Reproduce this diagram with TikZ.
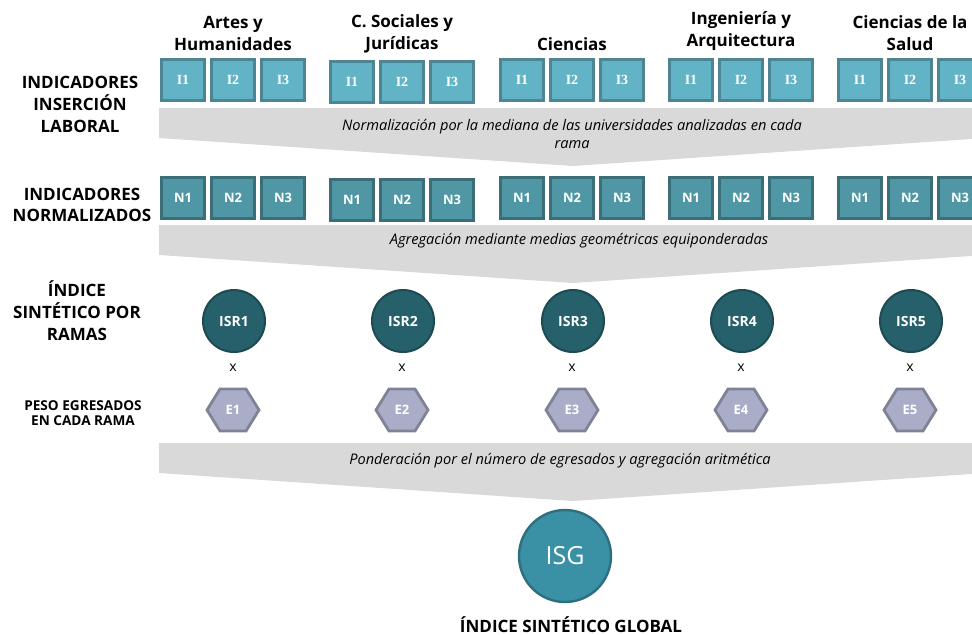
\documentclass[tikz,border=0pt]{standalone}
\usepackage{fontspec}
\setmainfont{Open Sans}
\newfontfamily\fuenteI{Liberation Serif}
\usepackage{tikz}

\definecolor{cajaI}{HTML}{62B3C5}
\definecolor{bordeI}{HTML}{4E8592}
\definecolor{cajaN}{HTML}{4F97A5}
\definecolor{bordeN}{HTML}{3C6E78}
\definecolor{circR}{HTML}{25606B}
\definecolor{bordeR}{HTML}{1E4A52}
\definecolor{hexE}{HTML}{A9ADC8}
\definecolor{bordeE}{HTML}{808296}
\definecolor{circG}{HTML}{3A91A6}
\definecolor{bordeG}{HTML}{2F6E7E}
\definecolor{embudo}{HTML}{D9D9D9}

\begin{document}
\begin{tikzpicture}[x=0.5pt, y=-0.5pt,
        etiqueta/.style={align=center, inner sep=0pt, font=\fontsize{8.5}{11}\selectfont\bfseries},
        rama/.style={etiqueta, anchor=south},
        ibox/.style={draw=bordeI, fill=cajaI, line width=1.4pt, minimum width=21.5pt, minimum height=20.5pt,
            inner sep=0pt, text=white, font=\fuenteI\bfseries\fontsize{7}{8}\selectfont},
        nbox/.style={ibox, draw=bordeN, fill=cajaN, font=\fontsize{6.5}{7}\selectfont\bfseries},
        isr/.style={circle, draw=bordeR, fill=circR, line width=1pt, minimum size=31pt, inner sep=0pt,
            text=white, font=\fontsize{7}{8}\selectfont\bfseries},
        hexa/.style={draw=bordeE, fill=hexE, line width=1.4pt},
        funnel/.style={fill=embudo},
        nota/.style={align=center, inner sep=0pt, font=\fontsize{7.3}{8.6}\selectfont\itshape}
    ]
        \clip (0,0) rectangle (972,634);

        % embudos grises
        \foreach \t in {108,225,443}
            \fill[funnel] (159,\t) -- (986,\t) -- (986,\t+30) -- (573,\t+58) -- (159,\t+30) -- cycle;

        % rotulos de la izquierda
        \node[etiqueta] (lab1) at (80,104) {INDICADORES\\INSERCIÓN\\LABORAL};
        \node[etiqueta, font=\fontsize{8.5}{10.5}\selectfont\bfseries] (lab2) at (82,205) {INDICADORES\\NORMALIZADOS};
        \node[etiqueta] (lab3) at (77,311) {ÍNDICE\\SINTÉTICO POR\\RAMAS};
        \node[etiqueta, font=\fontsize{6.8}{7.6}\selectfont\bfseries] (lab4) at (83,413) {PESO EGRESADOS\\EN CADA RAMA};

        % ramas: cabecera, indicadores, indices y pesos
        \foreach \gx/\dy/\texto [count=\i] in {233/0/{Artes y\\Humanidades}, 402/2/{C. Sociales y\\Jurídicas},
                572/0/{Ciencias}, 741/0/{Ingeniería y\\Arquitectura}, 910/0/{Ciencias de la\\Salud}} {
            \node[rama] (r\i) at (\gx,51+\dy) {\texto};
            \foreach \j/\dx in {1/-50,2/0,3/50} {
                \node[ibox] (i\i\j) at (\gx+\dx,80+\dy) {I\j};
                \node[nbox] (n\i\j) at (\gx+\dx,198+\dy) {N\j};
            }
            \node[isr] (isr\i) at (\gx+1,321) {ISR\i};
            \node[inner sep=0pt, font=\fontsize{7}{8}\selectfont] (x\i) at (\gx,368) {x};
            \draw[hexa, shift={(\gx,410)}] (-26,0) -- (-13,-21) -- (13,-21) -- (26,0) -- (13,21) -- (-13,21) -- cycle;
            \node[inner sep=0pt, text=white, font=\fontsize{6.5}{7}\selectfont\bfseries] (e\i) at (\gx,410) {E\i};
        }

        % textos de los embudos
        \node[nota] (norm) at (572,134) {Normalización por la mediana de las universidades analizadas en cada\\rama};
        \node[nota] (agre) at (579,241) {Agregación mediante medias geométricas equiponderadas};
        \node[nota] (pond) at (560,461) {Ponderación por el número de egresados y agregación aritmética};

        % indice global
        \node[circle, draw=bordeG, fill=circG, line width=1.2pt, minimum size=46pt, inner sep=0pt,
            text=white, font=\fontsize{12.5}{14}\selectfont] (isg) at (565,556) {ISG};
        \node[etiqueta, anchor=base] (global) at (571,632) {ÍNDICE SINTÉTICO GLOBAL};
    \end{tikzpicture}
\end{document}
